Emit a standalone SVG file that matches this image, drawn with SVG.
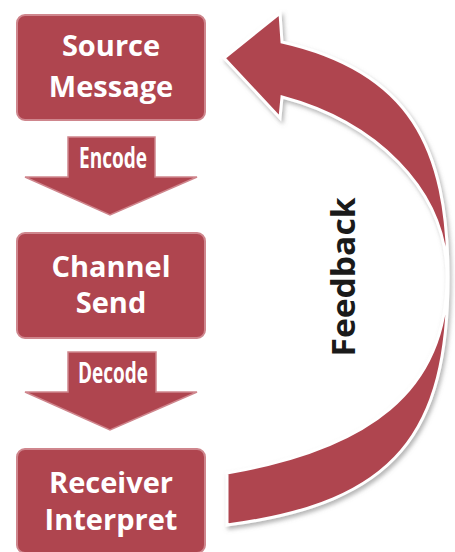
<svg xmlns="http://www.w3.org/2000/svg" width="455" height="552" viewBox="0 0 455 552">
  <defs>
    <filter id="soft" x="-5%" y="-5%" width="110%" height="110%">
      <feGaussianBlur stdDeviation="0.7"/>
    </filter>
    <filter id="shadow" x="-10%" y="-10%" width="125%" height="125%">
      <feDropShadow dx="2" dy="3" stdDeviation="2" flood-color="#7a7a7a" flood-opacity="0.55"/>
    </filter>
  </defs>
  <style>
    .box { fill: #AF4550; stroke: #CF868D; stroke-width: 2; }
    .shape { fill: #AF4550; stroke: #CF868D; stroke-width: 1.5; stroke-linejoin: miter; }
    .label { fill: #ffffff; font-family: "Open Sans", "Liberation Sans", sans-serif; font-weight: bold; font-size: 29px; text-anchor: middle; }
    .step { fill: #ffffff; font-family: "Open Sans", "Liberation Sans", sans-serif; font-weight: bold; font-size: 28px; text-anchor: middle; }
    .curve { fill: #AF4550; stroke: #ffffff; stroke-width: 3; stroke-linejoin: miter; }
    .side { fill: #1a1a1a; font-family: "Open Sans", "Liberation Sans", sans-serif; font-weight: bold; font-size: 32px; text-anchor: middle; }
  </style>

  <!-- process steps -->
  <g id="source">
    <rect class="box" x="17" y="15" width="188" height="105" rx="8" filter="url(#soft)"/>
    <text class="label" x="111" y="56">Source</text>
    <text class="label" x="111" y="97">Message</text>
  </g>

  <g id="channel">
    <rect class="box" x="17" y="233" width="188" height="105" rx="8" filter="url(#soft)"/>
    <text class="label" x="111" y="277">Channel</text>
    <text class="label" x="111" y="313">Send</text>
  </g>

  <g id="receiver">
    <rect class="box" x="17" y="449" width="188" height="104" rx="8" filter="url(#soft)"/>
    <text class="label" x="111" y="493">Receiver</text>
    <text class="label" x="111" y="530">Interpret</text>
  </g>

  <!-- connectors -->
  <g id="connectors">
    <g id="encode">
      <path class="shape" d="M68,137 H155 V177 H197 L110,215 L25,177 H68 Z" filter="url(#soft)"/>
      <text class="step" x="113" y="168" textLength="68" lengthAdjust="spacingAndGlyphs">Encode</text>
    </g>
    <g id="decode">
      <path class="shape" d="M68,352 H156 V392 H197 L110,430 L25,392 H68 Z" filter="url(#soft)"/>
      <text class="step" x="113" y="383" textLength="70" lengthAdjust="spacingAndGlyphs">Decode</text>
    </g>
    <g id="feedback">
      <path class="curve" filter="url(#shadow)"
        d="M224,58 L280,13 L282,42 C410,71 448,147 448,277 C448,432 397,503 227,525 L227,473 C367,449 447,392 447,277 C447,187 372,121 282,97 L280,118 Z"/>
      <text class="side" transform="translate(355,277) rotate(-90)" x="0" y="0" textLength="159" lengthAdjust="spacingAndGlyphs">Feedback</text>
    </g>
  </g>
</svg>
